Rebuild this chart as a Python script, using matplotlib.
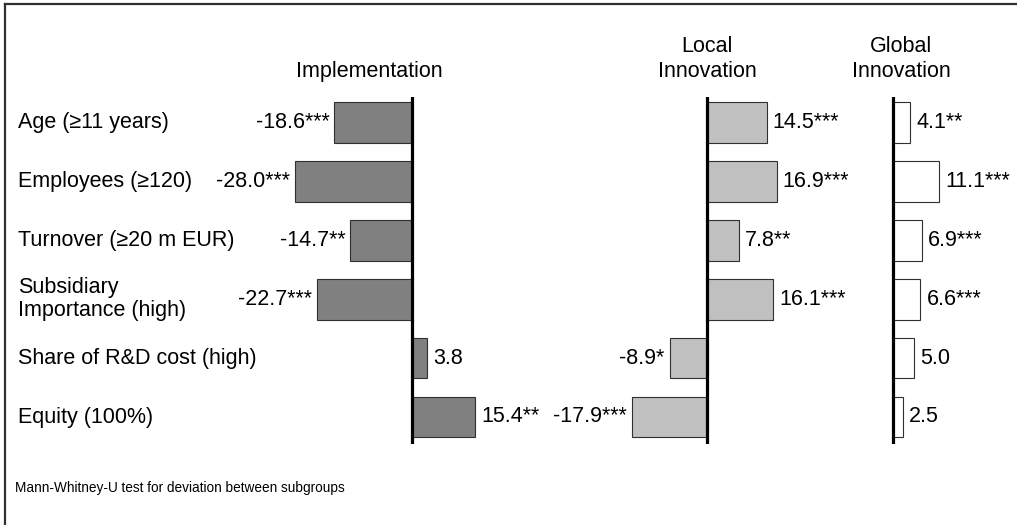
import matplotlib
matplotlib.use("Agg")
import matplotlib.pyplot as plt
from matplotlib.lines import Line2D

plt.rcParams['font.family'] = ['Liberation Sans', 'DejaVu Sans']

categories = ["Age (≥11 years)", "Employees (≥120)", "Turnover (≥20 m EUR)",
              "Subsidiary\nImportance (high)", "Share of R&D cost (high)", "Equity (100%)"]
impl_vals = [-18.6, -28.0, -14.7, -22.7, 3.8, 15.4]
impl_sig = ["***", "***", "**", "***", "", "**"]
local_vals = [14.5, 16.9, 7.8, 16.1, -8.9, -17.9]
local_sig = ["***", "***", "**", "***", "*", "***"]
global_vals = [4.1, 11.1, 6.9, 6.6, 5.0, 2.5]
global_sig = ["**", "***", "***", "***", "", ""]
footnote = "Mann-Whitney-U test for deviation between subgroups"

W, H = 1017, 525
fig = plt.figure(figsize=(W / 100, H / 100), dpi=100)
fig.patch.set_facecolor('white')

scale = 4.15          # px per unit
row0, rowstep = 122.5, 58.9
ytop, ybot = 97, 444
ylim_top = (ytop - row0) / rowstep
ylim_bot = (ybot - row0) / rowstep
FS = 15.5

def panel(x0, xmin, xmax, vals, sig, color):
    left = (x0 + xmin * scale) / W
    width = (xmax - xmin) * scale / W
    ax = fig.add_axes([left, (H - ybot) / H, width, (ybot - ytop) / H])
    ax.set_xlim(xmin, xmax)
    ax.set_ylim(ylim_bot, ylim_top)
    ax.axis('off')
    ax.patch.set_alpha(0)
    ys = list(range(len(vals)))
    ax.barh(ys, vals, height=0.69, color=color, edgecolor='#303030', linewidth=0.8, zorder=2)
    ax.axvline(0, color='black', lw=2.3, zorder=3)
    for y, v, s in zip(ys, vals, sig):
        off = 6 if v >= 0 else -5
        ax.annotate(f"{v:.1f}{s}", xy=(v, y), xytext=(off, 0), textcoords='offset pixels',
                    ha='left' if v >= 0 else 'right', va='center', fontsize=FS,
                    annotation_clip=False)
    return ax

panel(411.5, -32, 20, impl_vals, impl_sig, '#808080')
panel(706.5, -20, 20, local_vals, local_sig, '#c0c0c0')
panel(893, -2, 14, global_vals, global_sig, 'white')

# category labels
for i, c in enumerate(categories):
    fig.text(18 / W, 1 - (row0 + i * rowstep) / H, c, ha='left', va='center',
             fontsize=FS, linespacing=1.1)

# titles
def title(x, lines):
    base = 77
    for k, t in enumerate(reversed(lines)):
        fig.text(x / W, 1 - (base - 25 * k) / H, t, ha='center', va='baseline', fontsize=FS)

title(369, ["Implementation"])
title(707, ["Local", "Innovation"])
title(901, ["Global", "Innovation"])

fig.text(15 / W, 1 - 488 / H, footnote, ha='left', va='center', fontsize=9.8)

# frame (left and top edges)
fig.add_artist(Line2D([4.5 / W, 4.5 / W], [0, 1 - 4 / H], color='#303030', lw=1.6,
                      transform=fig.transFigure))
fig.add_artist(Line2D([4.5 / W, 1], [1 - 4 / H, 1 - 4 / H], color='#303030', lw=1.6,
                      transform=fig.transFigure))

fig.savefig("out.png", dpi=100, facecolor='white')
